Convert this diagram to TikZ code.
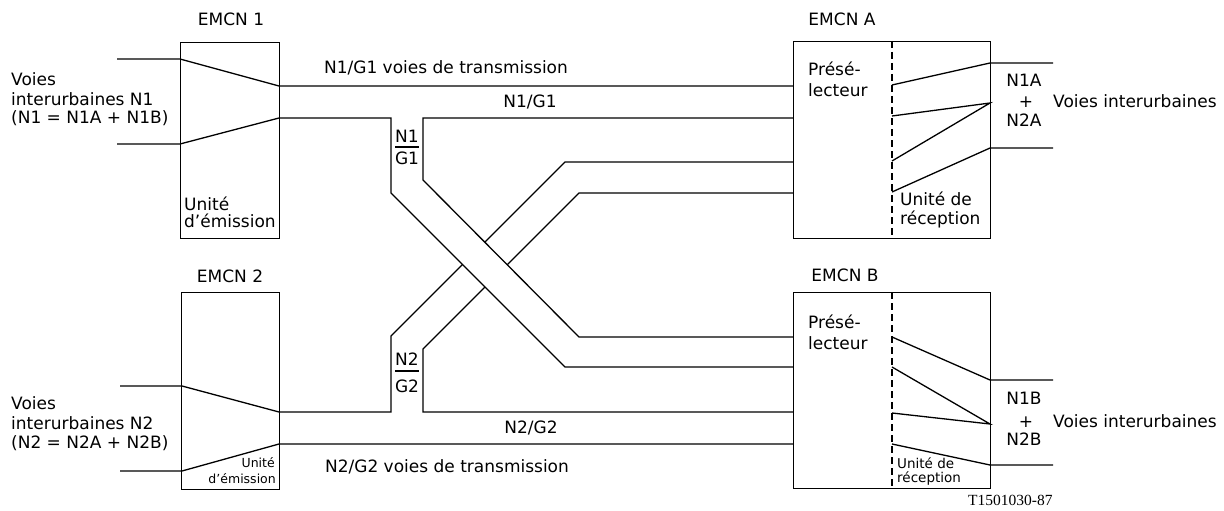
\documentclass[tikz,border=0pt]{standalone}
\usepackage{fontspec}
\setmainfont{DejaVu Sans}
\newfontfamily\serifT{Liberation Serif}
\begin{document}
\begin{tikzpicture}[x=1pt,y=-1pt,
  ln/.style={line width=1.3pt, line join=miter},
  bx/.style={draw, line width=1.4pt, inner sep=0pt, anchor=north west},
  dsh/.style={line width=1.2pt, dash pattern=on 7pt off 4pt},
  t/.style={inner sep=0pt, font=\fontsize{17}{20}\selectfont},
  ts/.style={inner sep=0pt, font=\fontsize{12.5}{14}\selectfont},
  tm/.style={inner sep=0pt, font=\fontsize{13.5}{15}\selectfont},
  tid/.style={inner sep=0pt, font=\serifT\fontsize{15.5}{17}\selectfont}]
\useasboundingbox (0,0) rectangle (1224,511);

% ---------- coordinates ----------
% EMCN 1
\coordinate (i1a) at (117,59);  \coordinate (b1a) at (180,59);  \coordinate (o1a) at (279,86);
\coordinate (i1b) at (117,144); \coordinate (b1b) at (180,144); \coordinate (o1b) at (279,118);
% EMCN 2
\coordinate (i2a) at (120,386); \coordinate (b2a) at (182,386); \coordinate (o2a) at (279,412);
\coordinate (i2b) at (120,471); \coordinate (b2b) at (182,471); \coordinate (o2b) at (279,444);
% EMCN A inputs
\coordinate (a1) at (793,86);  \coordinate (a2) at (793,118);
\coordinate (a3) at (793,162); \coordinate (a4) at (793,193);
% EMCN B inputs
\coordinate (b1) at (793,337); \coordinate (b2) at (793,367);
\coordinate (b3) at (793,412); \coordinate (b4) at (793,444);
% N1/G1 band bends
\coordinate (k1) at (391,118); \coordinate (k2) at (391,193); \coordinate (k3) at (565,367);
\coordinate (k4) at (423,118); \coordinate (k5) at (423,180); \coordinate (k6) at (579,337);
% N2/G2 band bends
\coordinate (m1) at (391,412); \coordinate (m2) at (391,336); \coordinate (m3) at (565,162);
\coordinate (m4) at (579,193); \coordinate (m5) at (423,349); \coordinate (m6) at (423,412);
% fan A
\coordinate (fa1) at (892,85);  \coordinate (fa2) at (892,116);
\coordinate (fa3) at (892,161); \coordinate (fa4) at (892,192);
\coordinate (ra1) at (990,63);  \coordinate (ra2) at (990,103); \coordinate (ra3) at (990,148);
\coordinate (oa1) at (1053,63); \coordinate (oa3) at (1053,148);
% fan B
\coordinate (fb1) at (892,337); \coordinate (fb2) at (892,367);
\coordinate (fb3) at (892,413); \coordinate (fb4) at (892,444);
\coordinate (rb1) at (990,380); \coordinate (rb2) at (990,424); \coordinate (rb3) at (990,465);
\coordinate (ob1) at (1053,380); \coordinate (ob3) at (1053,465);
% dashed separators
\coordinate (dA1) at (892,41);  \coordinate (dA2) at (892,238);
\coordinate (dB1) at (892,292); \coordinate (dB2) at (892,488);

% ---------- N2/G2 band (under) ----------
\draw[ln] (i2a) -- (b2a) -- (o2a) -- (m1) -- (m2) -- (m3) -- (a3);
\draw[ln] (a4) -- (m4) -- (m5) -- (m6) -- (b3);
\draw[ln] (i2b) -- (b2b) -- (o2b) -- (b4);

% ---------- N1/G1 band (over) ----------
\fill[white] (k2) -- (k3) -- (k6) -- (k5) -- cycle;
\draw[ln] (i1a) -- (b1a) -- (o1a) -- (a1);
\draw[ln] (i1b) -- (b1b) -- (o1b) -- (k1) -- (k2) -- (k3) -- (b2);
\draw[ln] (a2) -- (k4) -- (k5) -- (k6) -- (b1);

% ---------- boxes ----------
\node[bx, minimum width=99pt, minimum height=196pt] (e1) at (180,42) {};
\node[bx, minimum width=98pt, minimum height=197pt] (e2) at (181,292) {};
\node[bx, minimum width=197pt, minimum height=197pt] (eA) at (793,41) {};
\node[bx, minimum width=197pt, minimum height=196pt] (eB) at (793,292) {};
\draw[dsh] (dA1) -- (dA2);
\draw[dsh] (dB1) -- (dB2);

% ---------- fans ----------
\draw[ln] (fa1) -- (ra1) -- (oa1);
\draw[ln] (fa2) -- (ra2) -- (fa3);
\draw[ln] (fa4) -- (ra3) -- (oa3);
\draw[ln] (fb1) -- (rb1) -- (ob1);
\draw[ln] (fb2) -- (rb2) -- (fb3);
\draw[ln] (fb4) -- (rb3) -- (ob3);

% ---------- labels ----------
\node[t, anchor=base] (lE1) at (231,26) {EMCN 1};
\node[t, anchor=base] (lE2) at (230,282) {EMCN 2};
\node[t, anchor=base] (lEA) at (842,26) {EMCN A};
\node[t, anchor=base] (lEB) at (845,281) {EMCN B};

\node[t, anchor=base west] (v1a) at (11,85) {Voies};
\node[t, anchor=base west] (v1b) at (11,105) {interurbaines N1};
\node[t, anchor=base west] (v1c) at (11,124) {(N1 = N1A + N1B)};
\node[t, anchor=base west] (v2a) at (11,409) {Voies};
\node[t, anchor=base west] (v2b) at (11,429) {interurbaines N2};
\node[t, anchor=base west] (v2c) at (11,448) {(N2 = N2A + N2B)};

\node[t, anchor=base west] (u1a) at (184,210) {Unité};
\node[t, anchor=base west] (u1b) at (184,227) {d’émission};
\node[ts, anchor=base east] (u2a) at (275,467) {Unité};
\node[ts, anchor=base east] (u2b) at (276,483) {d’émission};

\node[t, anchor=base] (tN1) at (446,74) {N1/G1 voies de transmission};
\node[t, anchor=base] (lN1) at (530,107) {N1/G1};
\node[t, anchor=base] (fN1a) at (407,142) {N1};
\node[t, anchor=base] (fN1b) at (407,164) {G1};
\draw[line width=1.2pt] ([yshift=-5pt]fN1a.base west) -- ([yshift=-5pt]fN1a.base east);

\node[t, anchor=base] (tN2) at (447,472) {N2/G2 voies de transmission};
\node[t, anchor=base] (lN2) at (531,433) {N2/G2};
\node[t, anchor=base] (fN2a) at (407,365) {N2};
\node[t, anchor=base] (fN2b) at (407,392) {G2};
\draw[line width=1.2pt] ([yshift=-6pt]fN2a.base west) -- ([yshift=-6pt]fN2a.base east);

\node[t, anchor=base west] (pA1) at (808,76) {Présé-};
\node[t, anchor=base west] (pA2) at (808,96) {lecteur};
\node[t, anchor=base west] (rA1) at (900,205) {Unité de};
\node[t, anchor=base west] (rA2) at (900,224) {réception};
\node[t, anchor=base west] (pB1) at (808,328) {Présé-};
\node[t, anchor=base west] (pB2) at (808,349) {lecteur};
\node[tm, anchor=base west] (rB1) at (897,468) {Unité de};
\node[tm, anchor=base west] (rB2) at (897,482) {réception};

\node[t, anchor=base] (nA1) at (1024,86) {N1A};
\node[t, anchor=base] (nA2) at (1026,107) {+};
\node[t, anchor=base] (nA3) at (1024,126) {N2A};
\node[t, anchor=base west] (vA) at (1053,107) {Voies interurbaines};
\node[t, anchor=base] (nB1) at (1024,404) {N1B};
\node[t, anchor=base] (nB2) at (1026,427) {+};
\node[t, anchor=base] (nB3) at (1024,445) {N2B};
\node[t, anchor=base west] (vB) at (1053,427) {Voies interurbaines};

\node[tid, anchor=base west] (tid) at (968,505) {T1501030-87};
\end{tikzpicture}
\end{document}
